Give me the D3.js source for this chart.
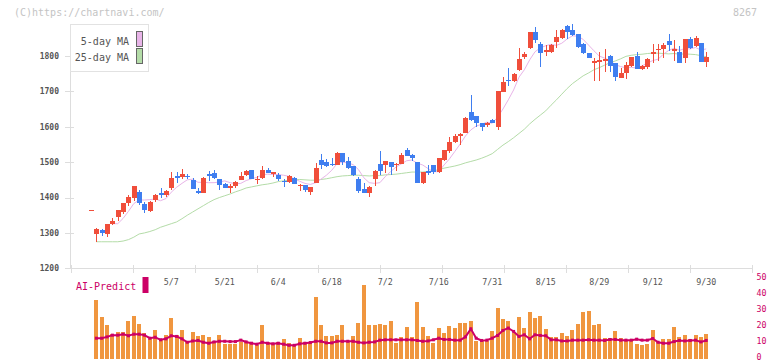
<!DOCTYPE html>
<html><head><meta charset="utf-8">
<script src="https://cdn.jsdelivr.net/npm/d3@7"></script>
<style>html,body{margin:0;padding:0;background:#fff;}svg{display:block;}</style>
</head><body>
<svg id="c" width="772" height="361"></svg>
<script>
// ---- data ----
const openP  = [1364,1297,1307,1297,1325,1345,1359,1384,1398,1415,1381,1362,1393,1412,1406,1426,1462,1458,1462,1449,1418,1413,1466,1469,1451,1438,1427,1433,1449,1463,1477,1451,1456,1477,1466,1463,1447,1443,1455,1433,1435,1416,1441,1506,1500,1495,1492,1525,1503,1490,1452,1424,1413,1452,1495,1492,1500,1491,1495,1534,1519,1501,1441,1475,1491,1473,1507,1531,1556,1575,1583,1642,1630,1610,1605,1619,1598,1699,1732,1730,1760,1796,1822,1868,1834,1810,1810,1840,1851,1885,1874,1861,1834,1808,1781,1784,1787,1800,1781,1739,1751,1773,1800,1764,1768,1805,1817,1819,1843,1814,1810,1795,1848,1827,1838,1784];
const highP  = [1364,1315,1312,1324,1343,1364,1384,1407,1432,1421,1387,1391,1409,1426,1421,1473,1473,1480,1466,1455,1426,1457,1475,1477,1451,1441,1438,1447,1473,1477,1477,1460,1489,1484,1472,1470,1451,1463,1458,1437,1435,1429,1498,1524,1510,1512,1529,1525,1514,1490,1457,1441,1432,1479,1531,1502,1500,1498,1525,1539,1524,1501,1471,1491,1491,1511,1534,1571,1579,1583,1628,1690,1630,1610,1613,1623,1702,1742,1766,1751,1824,1810,1868,1883,1840,1832,1834,1874,1877,1889,1891,1862,1838,1808,1793,1810,1821,1803,1781,1765,1784,1798,1811,1774,1793,1833,1833,1836,1861,1845,1827,1848,1853,1857,1838,1810];
const lowP   = [1364,1275,1292,1289,1322,1334,1354,1376,1391,1380,1357,1360,1388,1398,1402,1422,1442,1451,1453,1424,1410,1413,1447,1451,1422,1427,1413,1428,1449,1460,1453,1439,1451,1468,1458,1446,1429,1441,1437,1418,1416,1408,1440,1480,1487,1490,1492,1491,1480,1460,1414,1414,1402,1434,1465,1470,1464,1475,1495,1516,1502,1440,1437,1463,1466,1470,1502,1525,1553,1548,1581,1617,1600,1589,1600,1611,1591,1699,1715,1727,1759,1791,1819,1836,1770,1800,1808,1822,1849,1847,1857,1822,1805,1793,1730,1730,1756,1756,1730,1737,1734,1768,1764,1760,1762,1779,1786,1793,1815,1786,1779,1781,1819,1825,1784,1770];
const closeP = [1364,1310,1300,1324,1333,1364,1384,1401,1432,1385,1365,1388,1408,1408,1418,1455,1455,1466,1458,1424,1413,1455,1462,1455,1436,1427,1432,1444,1460,1475,1453,1453,1477,1470,1472,1452,1444,1460,1439,1436,1422,1429,1483,1491,1490,1491,1526,1501,1484,1463,1419,1414,1429,1475,1475,1502,1485,1495,1520,1518,1512,1440,1471,1470,1473,1511,1534,1556,1574,1579,1625,1619,1611,1600,1610,1611,1702,1727,1730,1749,1791,1806,1868,1844,1808,1817,1830,1853,1874,1867,1860,1825,1808,1793,1787,1789,1792,1772,1742,1753,1775,1796,1764,1772,1791,1810,1820,1831,1830,1819,1779,1848,1822,1851,1784,1796];
const ma5 = [null,null,null,null,1326,1326,1341,1361,1383,1393,1393,1394,1396,1391,1397,1415,1429,1440,1450,1452,1443,1443,1442,1442,1444,1447,1442,1439,1440,1448,1453,1457,1464,1466,1465,1465,1463,1460,1453,1446,1440,1437,1442,1452,1463,1477,1496,1500,1498,1493,1479,1456,1442,1440,1442,1459,1473,1486,1495,1504,1506,1497,1492,1482,1473,1473,1492,1509,1530,1551,1574,1591,1602,1607,1613,1610,1627,1650,1676,1704,1740,1761,1789,1812,1823,1829,1833,1830,1836,1848,1857,1856,1847,1831,1815,1800,1794,1787,1776,1770,1767,1768,1766,1772,1780,1787,1791,1805,1816,1822,1816,1821,1820,1824,1817,1820];
const ma25 = [null,1275,1275,1275,1275,1275,1277,1281,1288,1297,1300,1304,1309,1316,1321,1326,1331,1340,1350,1359,1368,1377,1386,1394,1400,1405,1410,1416,1421,1427,1430,1433,1436,1438,1441,1445,1447,1449,1450,1451,1450,1449,1449,1451,1453,1456,1459,1461,1462,1463,1463,1462,1461,1462,1462,1464,1465,1466,1468,1470,1472,1472,1472,1474,1475,1479,1483,1486,1489,1493,1498,1502,1506,1511,1517,1524,1536,1548,1558,1569,1581,1593,1608,1621,1633,1645,1661,1676,1692,1708,1722,1733,1744,1752,1761,1767,1774,1781,1786,1792,1799,1802,1804,1805,1807,1808,1808,1807,1806,1807,1805,1806,1805,1804,1801,1798];
const volume = [null,36.2,25.6,20.6,15.4,16.7,16.7,23.1,26.3,21.7,16,12.3,17.9,12.5,14.4,25,14.4,17.9,10.6,16.7,13.8,14.8,13.5,11,14.4,9.4,9.4,8.8,10.6,10.2,9.8,8.5,21,10.2,9.4,10.6,12.3,9.8,8.1,12.9,10.2,10.2,38,20.6,13.8,13.8,14.8,20.6,10.6,13.8,22.3,45.6,20.6,20.6,21.7,21,23.1,10,13.5,19.8,13.5,35.4,19.8,14.2,9.8,19,16,20.4,19.2,22.3,22.3,23.5,11,11,11,17.3,31.7,24.8,23.5,16,26,19.2,29.2,25.4,26.7,18.5,13.5,13.5,16,14.2,17.9,21.7,29.2,29.8,21,21.7,12.9,12.9,17.3,12.9,11.7,11,9.2,8.5,9.2,17.9,10.4,12.3,12.3,19.8,13.5,14.8,12.3,14.8,13.5,15.4];
const aiPredict = [null,12.7,12.7,13.5,14.6,14.6,15.2,14.2,15.2,15.2,14.6,12.7,13.3,11.7,12.3,14.2,13.8,12.3,10.2,11,11.3,10.2,9.6,10.4,10.8,10.8,10.6,10.6,11.5,10.4,9.6,9,10.2,9.6,9.2,9.6,9,8.3,8.3,9.2,9.6,10,10.8,10.8,9.8,9.8,10.8,10.8,10.8,10.8,10.2,9.8,10.2,10.4,11.5,11.7,11.7,11.7,11.7,11.7,11.7,11.3,10.8,11,11.7,12.7,11.9,11.9,11.5,11.5,13.5,18.5,12.7,11.3,11.5,12.7,14.4,17.5,19,16.9,13.8,14.8,12.3,14.8,14.4,14.2,11.7,11.7,11,11,11.5,11.5,11.5,11.7,11.5,11.5,11.3,11.9,11.9,11.5,11.5,11.5,12.1,11.5,11.5,12.5,10.2,9.6,9.6,10.6,11.3,11,11.3,11.5,10.4,11.3];
const dateLabels = ["5/7","5/21","6/4","6/18","7/2","7/16","7/31","8/15","8/29","9/12","9/30"];
const dateLabelIdx = [15,25,35,45,55,65,75,85,95,105,115];
const priceTicks = [1200,1300,1400,1500,1600,1700,1800];
const volTicks = [0,10,20,30,40,50];
const legendNames = ["5-day MA","25-day MA"];
const titleText = "(C)https://chartnavi.com/";
const codeText = "8267";

// ---- drawing ----
const svg = d3.select("#c");
const FONT = "'DejaVu Sans Mono', monospace";
const UP = "#f04e3b", DOWN = "#3f7ef0";
const PINK = "#e8b4e8", GREEN = "#b4dca8", AI = "#cc0066", BAR = "#f0963f", GRID = "#dddddd";

svg.append("rect").attr("width",772).attr("height",361).attr("fill","#fff");

const n = closeP.length;
const x = d3.scaleLinear().domain([0, n-1]).range([91, 706.2]);
const y = d3.scaleLinear().domain([1200, 1800]).range([268.3, 56]);
const yv = d3.scaleLinear().domain([0, 50]).range([358.7, 278]);
const gridX = d3.scaleLinear().domain([0, 11]).range([70.7, 752]);

// header texts
svg.append("text").attr("x",14).attr("y",16).attr("font-family",FONT).attr("font-size",10)
  .attr("fill","#c4c4c4").text(titleText);
svg.append("text").attr("x",757).attr("y",16).attr("text-anchor","end").attr("font-family",FONT).attr("font-size",10)
  .attr("fill","#c4c4c4").text(codeText);

// axes
const ax = svg.append("g").attr("shape-rendering","crispEdges");
ax.append("line").attr("x1",70.5).attr("x2",70.5).attr("y1",24).attr("y2",268.5).attr("stroke",GRID);
ax.append("line").attr("x1",70).attr("x2",752.5).attr("y1",268.5).attr("y2",268.5).attr("stroke",GRID);
d3.range(12).forEach(k=>{
  const gx = Math.round(gridX(k))+0.5;
  ax.append("line").attr("x1",gx).attr("x2",gx).attr("y1",265).attr("y2",273).attr("stroke",GRID);
});
priceTicks.forEach(p=>{
  const yy = Math.round(y(p))+0.5;
  ax.append("line").attr("x1",65).attr("x2",74).attr("y1",yy).attr("y2",yy).attr("stroke",GRID);
  svg.append("text").attr("x",59).attr("y",y(p)).attr("dy","0.35em").attr("text-anchor","end")
    .attr("font-family",FONT).attr("font-size",8).attr("font-weight","bold").attr("fill","#555").text(p);
});
dateLabels.forEach((t,k)=>{
  svg.append("text").attr("x",x(dateLabelIdx[k])).attr("y",282.5).attr("dy","0.35em").attr("text-anchor","middle")
    .attr("font-family",FONT).attr("font-size",8.3).attr("fill","#555").text(t);
});
volTicks.forEach(v=>{
  svg.append("text").attr("x",756.5).attr("y",yv(v)-1.2).attr("dy","0.35em")
    .attr("font-family",FONT).attr("font-size",8.3).attr("fill",AI).text(v);
});

// volume bars
const idx = d3.range(n);
svg.append("g").attr("shape-rendering","crispEdges").selectAll("rect")
  .data(idx.filter(i=>volume[i]!=null)).join("rect")
  .attr("x", i=>Math.round(x(i))-2).attr("width",4)
  .attr("y", i=>yv(volume[i])).attr("height", i=>yv(0)-yv(volume[i]))
  .attr("fill",BAR);

// AI predict line
const aiLine = d3.line().defined(i=>aiPredict[i]!=null).x(i=>x(i)).y(i=>yv(aiPredict[i]));
svg.append("path").attr("d",aiLine(idx)).attr("fill","none").attr("stroke",AI).attr("stroke-width",2);
svg.append("g").selectAll("rect").data(idx.filter(i=>aiPredict[i]!=null)).join("rect")
  .attr("x",i=>x(i)-1.5).attr("y",i=>yv(aiPredict[i])-1.5).attr("width",3).attr("height",3).attr("fill",AI);

// AI legend
svg.append("text").attr("x",76).attr("y",286).attr("dy","0.35em").attr("font-family",FONT).attr("font-size",10)
  .attr("fill",AI).text("AI-Predict");
svg.append("rect").attr("x",142.5).attr("y",277).attr("width",6).attr("height",16).attr("fill",AI);

// MA lines
const maLine = arr => d3.line().defined(i=>arr[i]!=null).x(i=>x(i)).y(i=>y(arr[i]))(idx);
svg.append("path").attr("d",maLine(ma25)).attr("fill","none").attr("stroke",GREEN).attr("stroke-width",1);
svg.append("path").attr("d",maLine(ma5)).attr("fill","none").attr("stroke",PINK).attr("stroke-width",1);

// candles
const cg = svg.append("g").attr("shape-rendering","crispEdges");
idx.forEach(i=>{
  const o=openP[i], c=closeP[i], h=highP[i], l=lowP[i];
  const col = c>=o ? UP : DOWN;
  const cx = Math.round(x(i));
  cg.append("line").attr("x1",cx+0.5).attr("x2",cx+0.5).attr("y1",y(h)).attr("y2",y(l)).attr("stroke",col);
  const top = y(Math.max(o,c)), bot = y(Math.min(o,c));
  cg.append("rect").attr("x",cx-2).attr("width",5).attr("y",top).attr("height",Math.max(1,bot-top)).attr("fill",col);
});

// legend box
const lg = svg.append("g");
lg.append("rect").attr("x",70.5).attr("y",24.5).attr("width",78).attr("height",47).attr("fill","#fff")
  .attr("stroke","#e2e2e2").attr("shape-rendering","crispEdges");
[PINK, GREEN].forEach((col,k)=>{
  lg.append("text").attr("x",129).attr("y",41+k*16.5).attr("dy","0.35em").attr("text-anchor","end")
    .attr("font-family",FONT).attr("font-size",10).attr("fill","#555").text(legendNames[k]);
  lg.append("rect").attr("x",136.5).attr("y",31.5+k*17).attr("width",6).attr("height",15)
    .attr("fill",col).attr("stroke","#666").attr("shape-rendering","crispEdges");
});
</script>
</body></html>
